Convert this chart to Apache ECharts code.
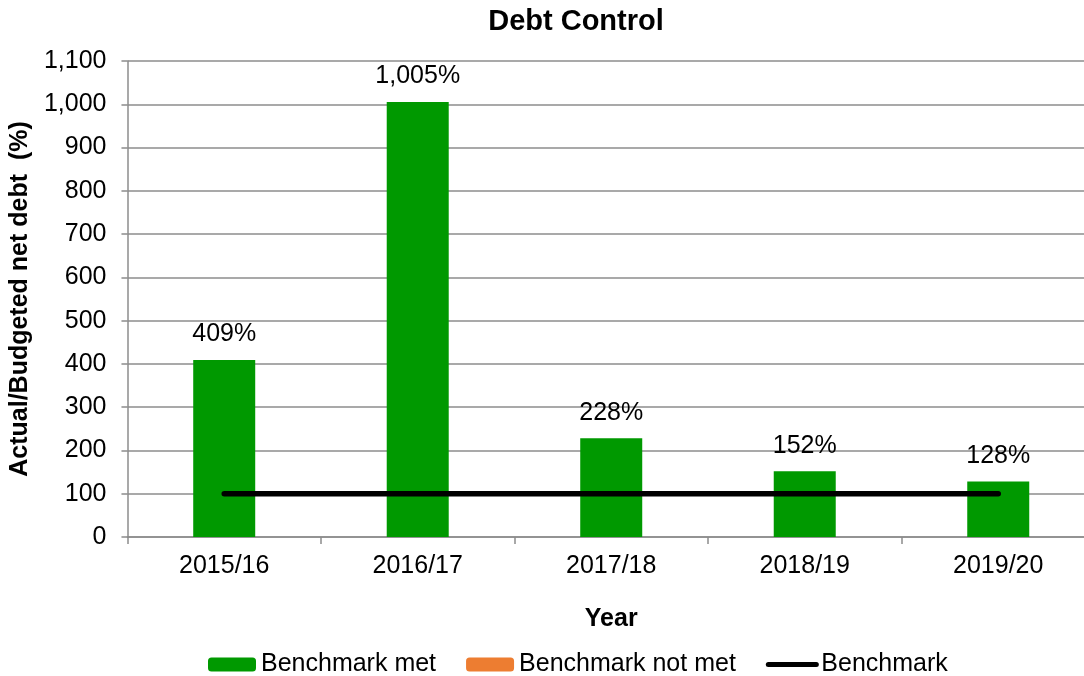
<!DOCTYPE html>
<html><head><meta charset="utf-8">
<script src="https://cdn.jsdelivr.net/npm/echarts@6/dist/echarts.min.js"></script>
<style>html,body{margin:0;padding:0;background:#fff;overflow:hidden}#c{width:1095px;height:676px}</style>
</head><body><div id="c"></div>
<script>
const categories = ['2015/16','2016/17','2017/18','2018/19','2019/20'];
const benchmarkMet = [409, 1005, 228, 152, 128];
const benchmarkNotMet = [null, null, null, null, null];
const benchmark = [100, 100, 100, 100, 100];
const yTicks = {min: 0, max: 1100, interval: 100};

const F = 'Liberation Sans, Arial, sans-serif';
const fmt = v => v.toLocaleString('en-US');
const chart = echarts.init(document.getElementById('c'));
chart.setOption({
  animation: false,
  textStyle: {fontFamily: F},
  title: {text: 'Debt Control', left: 571, top: 2, textAlign: 'center',
    textStyle: {fontFamily: F, fontSize: 29, fontWeight: 'bold', color: '#000'}},
  grid: {left: 127, right: 0, top: 61, bottom: 139},
  legend: {bottom: -6, left: 203, itemWidth: 48, itemHeight: 14, itemGap: 30,
    textStyle: {fontFamily: F, fontSize: 25, color: '#000'},
    data: ['Benchmark met','Benchmark not met',
      {name: 'Benchmark', itemStyle: {opacity: 0}, lineStyle: {width: 5, cap: 'round', color: '#000'}}]},
  xAxis: {type: 'category', data: categories, name: 'Year', nameLocation: 'middle', nameGap: 70,
    nameTextStyle: {fontFamily: F, fontSize: 25, fontWeight: 'bold', color: '#000'},
    axisLine: {lineStyle: {color: '#8c8c8c', width: 1.5}},
    axisTick: {show: true, length: 7, lineStyle: {color: '#8c8c8c', width: 1.5}},
    axisLabel: {fontFamily: F, fontSize: 25, color: '#000', margin: 17}},
  yAxis: {type: 'value', min: yTicks.min, max: yTicks.max, interval: yTicks.interval,
    name: 'Actual/Budgeted net debt  (%)', nameLocation: 'middle', nameGap: 92,
    nameTextStyle: {fontFamily: F, fontSize: 25, fontWeight: 'bold', color: '#000'},
    axisLine: {show: true, lineStyle: {color: '#8c8c8c', width: 1.5}},
    axisTick: {show: true, length: 6, lineStyle: {color: '#8c8c8c', width: 1.5}},
    splitLine: {lineStyle: {color: '#8c8c8c', width: 1.5}},
    axisLabel: {fontFamily: F, fontSize: 25, color: '#000', margin: 21, formatter: v => fmt(v)}},
  series: [
    {name: 'Benchmark met', type: 'bar', data: benchmarkMet, barWidth: 62, barGap: '-100%',
      itemStyle: {color: '#009900'},
      label: {show: true, position: 'top', distance: 13, fontFamily: F, fontSize: 25, color: '#000',
        formatter: p => fmt(p.value) + '%'}},
    {name: 'Benchmark not met', type: 'bar', data: benchmarkNotMet, barWidth: 62, barGap: '-100%',
      itemStyle: {color: '#ED7D31'}},
    {name: 'Benchmark', type: 'line', data: benchmark, symbol: 'none', z: 5,
      lineStyle: {color: '#000', width: 5.5, cap: 'round'}, itemStyle: {color: '#000'}}
  ]
});
</script></body></html>
